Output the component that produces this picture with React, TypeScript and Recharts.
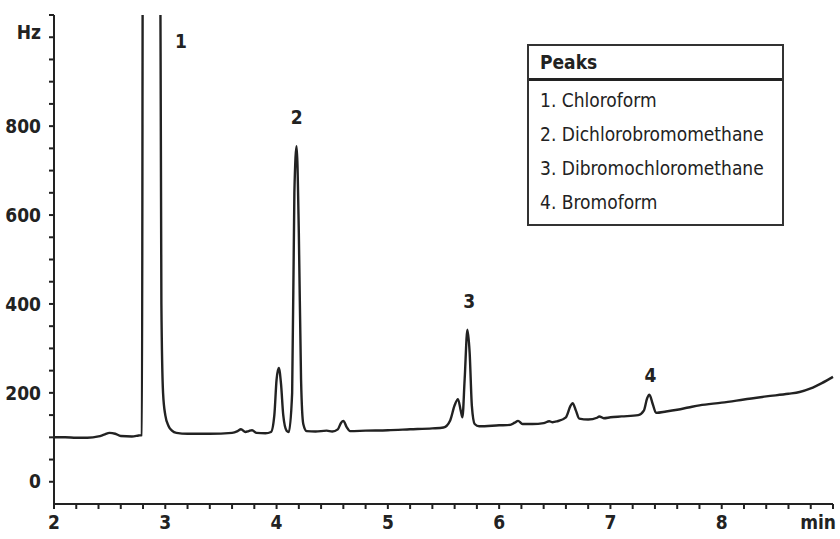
import React from 'react';
import { LineChart, Line, XAxis, YAxis, ReferenceDot } from 'recharts';

// retention time (min) and detector signal (Hz)
const times = [
  2.0, 2.1, 2.2, 2.3, 2.4, 2.45, 2.5, 2.55, 2.6, 2.7, 2.76, 2.79, 2.8, 2.95, 2.965, 2.98,
  3.0, 3.03, 3.06, 3.1, 3.2, 3.4, 3.6, 3.65, 3.68, 3.72, 3.75, 3.78, 3.82, 3.9, 3.95, 3.98,
  4.0, 4.02, 4.04, 4.06, 4.09, 4.11, 4.14, 4.16, 4.18, 4.2, 4.22, 4.24, 4.27, 4.35, 4.45, 4.5,
  4.55, 4.58, 4.6, 4.63, 4.66, 4.8, 5.0, 5.2, 5.4, 5.5, 5.56, 5.6, 5.63, 5.655, 5.67, 5.69,
  5.715, 5.735, 5.755, 5.78, 5.82, 6.0, 6.1, 6.14, 6.17, 6.21, 6.3, 6.4, 6.45, 6.48, 6.52, 6.6,
  6.64, 6.66, 6.69, 6.72, 6.8, 6.88, 6.9, 6.94, 7.0, 7.1, 7.25, 7.3, 7.33, 7.35, 7.38, 7.41,
  7.5, 7.6, 7.7, 7.8, 8.0, 8.2, 8.4, 8.6, 8.7, 8.8, 8.9, 9.0,
];
const signal = [
  100, 100, 99, 99, 102, 106, 110, 108, 103, 102, 104, 105, 1500, 1500, 400, 200,
  150, 125, 115, 110, 108, 108, 110, 114, 118, 112, 114, 116, 110, 109, 112, 150,
  230, 256, 220, 150, 115, 112, 200, 650, 755, 560, 230, 130, 114, 113, 115, 113,
  118, 133, 137, 123, 114, 115, 116, 118, 120, 122, 138, 172, 186, 160, 145, 230,
  342, 290, 170, 130, 125, 127, 128, 133, 137, 130, 130, 132, 136, 134, 136, 145,
  170, 177, 160, 142, 140, 144, 147, 143, 145, 147, 150, 160, 188, 196, 175, 155,
  158, 162, 167, 172, 178, 185, 192, 198, 202, 210, 222, 236,
];

const peakNames = ['Chloroform', 'Dichlorobromomethane', 'Dibromochloromethane', 'Bromoform'];
const peakTimes = [3.14, 4.18, 5.73, 7.36];
const peakLabelLevels = [990, 820, 405, 240];

const xTicks = [
  2, 2.2, 2.4, 2.6, 2.8, 3, 3.2, 3.4, 3.6, 3.8, 4, 4.2, 4.4, 4.6, 4.8, 5, 5.2, 5.4, 5.6, 5.8,
  6, 6.2, 6.4, 6.6, 6.8, 7, 7.2, 7.4, 7.6, 7.8, 8, 8.2, 8.4, 8.6, 8.8, 9,
];
const yTicks = [0, 50, 100, 150, 200, 250, 300, 350, 400, 450, 500, 550, 600, 650, 700, 750, 800, 850, 900, 950, 1000, 1050];

const data = times.map((t, i) => ({ t, hz: signal[i] }));

const font = "'Liberation Sans Narrow', 'DejaVu Sans Condensed', 'Roboto', sans-serif";
const ink = '#222';

const XTick = (props: any) => {
  const { x, y, payload } = props;
  const v = payload.value;
  if (Math.abs(v - Math.round(v)) > 1e-6) return null;
  const last = v === 9;
  return (
    <text
      x={last ? x + 3 : x}
      y={y}
      dy="0.8em"
      textAnchor={last ? 'end' : 'middle'}
      fill={ink}
      fontSize={19}
      fontFamily={font}
      fontWeight="bold"
    >
      {last ? 'min' : v}
    </text>
  );
};

const YTick = (props: any) => {
  const { x, y, payload } = props;
  const v = payload.value;
  if (v === 1000) {
    return (
      <text x={x} y={y} dy="0.1em" textAnchor="end" fill={ink} fontSize={19} fontFamily={font} fontWeight="bold">
        Hz
      </text>
    );
  }
  if (v % 200 !== 0) return null;
  return (
    <text x={x} y={y} dy="0.35em" textAnchor="end" fill={ink} fontSize={19} fontFamily={font} fontWeight="bold">
      {v}
    </text>
  );
};

export default function App() {
  return (
    <div style={{ position: 'absolute', left: 0, top: 0, width: 840, height: 539, background: '#fff' }}>
      <LineChart width={840} height={539} data={data} margin={{ top: 15, right: 7, left: 0, bottom: 0 }}>
        <XAxis
          dataKey="t"
          type="number"
          domain={[2, 9]}
          ticks={xTicks}
          interval={0}
          tickSize={5}
          tickMargin={5}
          height={35}
          stroke={ink}
          strokeWidth={2}
          tick={<XTick />}
        />
        <YAxis
          type="number"
          domain={[-50, 1050]}
          allowDataOverflow
          ticks={yTicks}
          interval={0}
          tickSize={5}
          tickMargin={8}
          width={54}
          stroke={ink}
          strokeWidth={2}
          tick={<YTick />}
        />
        <Line
          type="monotone"
          dataKey="hz"
          stroke={ink}
          strokeWidth={2.4}
          dot={false}
          isAnimationActive={false}
        />
        {peakTimes.map((t, i) => (
          <ReferenceDot
            key={i}
            x={t}
            y={peakLabelLevels[i]}
            r={0}
            ifOverflow="visible"
            label={{ value: String(i + 1), fill: ink, fontSize: 19, fontFamily: font, fontWeight: 'bold' }}
          />
        ))}
      </LineChart>
      <div
        style={{
          position: 'absolute',
          left: 527,
          top: 44,
          width: 253,
          height: 178,
          border: '2px solid #333',
          fontFamily: font,
          color: ink,
          fontSize: 19,
        }}
      >
        <div style={{ height: 32, lineHeight: '32px', paddingLeft: 11, fontWeight: 'bold', borderBottom: '3px solid #222' }}>
          Peaks
        </div>
        <div style={{ paddingLeft: 11, paddingTop: 2 }}>
          {peakNames.map((n, i) => (
            <div key={n} style={{ height: 34, lineHeight: '34px' }}>
              {i + 1}. {n}
            </div>
          ))}
        </div>
      </div>
    </div>
  );
}
